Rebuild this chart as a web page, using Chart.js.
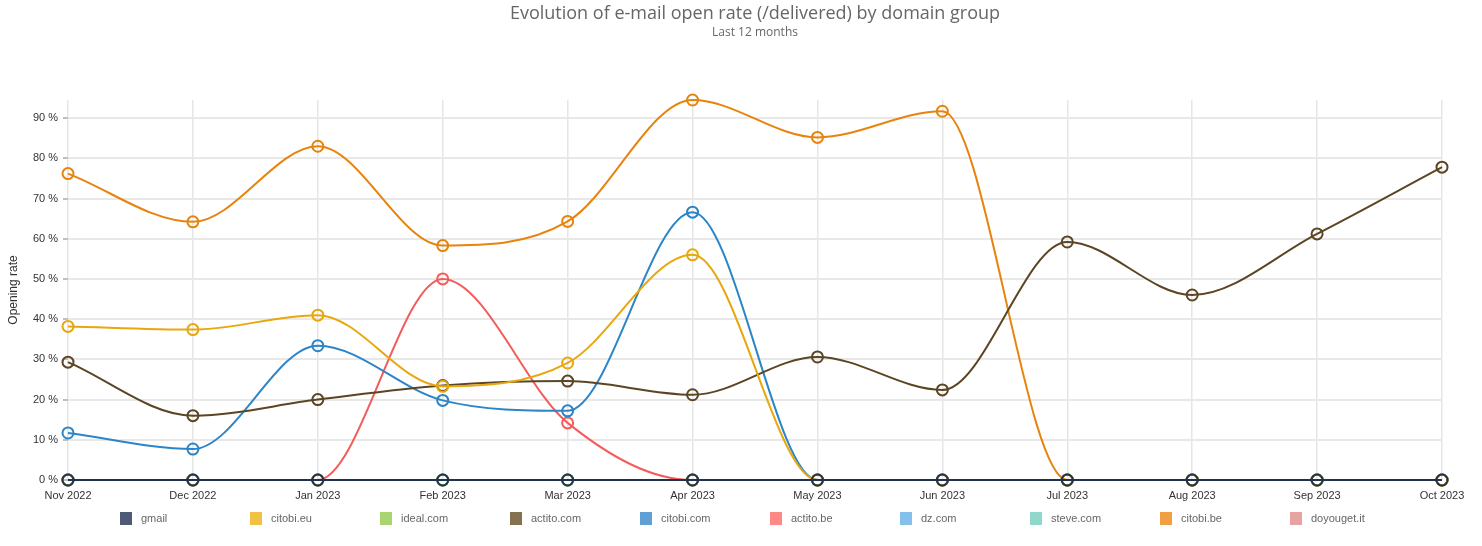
<!DOCTYPE html>
<html>
<head>
<meta charset="utf-8">
<script src="https://cdn.jsdelivr.net/npm/chart.js@4/dist/chart.umd.min.js"></script>
<style>
  html, body { margin: 0; padding: 0; background: #fff; }
  #wrap { width: 1482px; height: 546px; }
</style>
</head>
<body>
<div id="wrap"><canvas id="openChart"></canvas></div>
<script>
// months on the x axis
const months = ["Nov 2022", "Dec 2022", "Jan 2023", "Feb 2023", "Mar 2023", "Apr 2023",
                "May 2023", "Jun 2023", "Jul 2023", "Aug 2023", "Sep 2023", "Oct 2023"]

// open rate in %, one array per domain group
const gmail      = [0, 0, 0, 0, 0, 0, 0, 0, 0, 0, 0, 0]
const citobiEu   = [38.2, 37.4, 41.0, 23.3, 29.1, 56.0, 0, 0, 0, 0, 0, 0]
const idealCom   = [0, 0, 0, 0, 0, 0, 0, 0, 0, 0, 0, 0]
const actitoCom  = [29.3, 16.0, 20.0, 23.5, 24.6, 21.2, 30.6, 22.4, 59.2, 46.0, 61.2, 77.8]
const citobiCom  = [11.7, 7.7, 33.4, 19.8, 17.2, 66.6, 0, 0, 0, 0, 0, 0]
const actitoBe   = [0, 0, 0, 50.0, 14.2, 0, 0, 0, 0, 0, 0, 0]
const dzCom      = [0, 0, 0, 0, 0, 0, 0, 0, 0, 0, 0, 0]
const steveCom   = [0, 0, 0, 0, 0, 0, 0, 0, 0, 0, 0, 0]
const citobiBe   = [76.2, 64.2, 83.0, 58.3, 64.3, 94.5, 85.2, 91.7, 0, 0, 0, 0]
const doyougetIt = [0, 0, 0, 0, 0, 0, 0, 0, 0, 0, 0, 0]

const yTicks = [0, 10, 20, 30, 40, 50, 60, 70, 80, 90]

const series = [
       ["gmail", gmail, "#22324d", "#4d5b78"],
       ["citobi.eu", citobiEu, "#e8a70c", "#f2c144"],
       ["ideal.com", idealCom, "#8cc43c", "#a9d46f"],
       ["actito.com", actitoCom, "#5b4523", "#85704f"],
       ["citobi.com", citobiCom, "#2b85c7", "#5ea0d5"],
       ["actito.be", actitoBe, "#f45b5b", "#ff8784"],
       ["dz.com", dzCom, "#63b0e6", "#83c1ec"],
       ["steve.com", steveCom, "#6ccbb8", "#8fd8cb"],
       ["citobi.be", citobiBe, "#e8830c", "#f0a043"],
       ["doyouget.it", doyougetIt, "#e08386", "#e8a2a4"]
]

// legend drawn with fixed item width, like the original
const fixedLegend = {
       id: "fixedLegend",
       afterDraw(chart) {
              const ctx = chart.ctx
              const a = chart.chartArea
              const mid = (a.left + a.right) / 2
              ctx.save()
              ctx.font = '11px "Liberation Sans", Arial, sans-serif'
              ctx.textBaseline = "middle"
              chart.data.datasets.forEach((ds, i) => {
                     const x = mid - 650 + 15 + i * 130
                     ctx.fillStyle = ds.legendColor
                     ctx.fillRect(x, 512, 12, 13)
                     ctx.fillStyle = "#666"
                     ctx.fillText(ds.label, x + 21, 519)
              })
              ctx.restore()
       }
}

const axisFont = { family: '"Liberation Sans", Arial, sans-serif', size: 11 }

new Chart(document.getElementById("openChart"), {

       type: "line",

       data: {
              labels: months,
              datasets: series.map(([name, values, color, legendColor]) => ({
                     label: name,
                     data: values,
                     borderColor: color,
                     legendColor: legendColor,
                     borderWidth: 2,
                     pointRadius: 5.5,
                     pointHoverRadius: 5.5,
                     pointBorderWidth: 2,
                     pointBackgroundColor: "rgba(0,0,0,0)",
                     pointBorderColor: color,
                     cubicInterpolationMode: "monotone",
                     clip: false
              }))
       },

       options: {
              responsive: true,
              maintainAspectRatio: false,
              animation: false,
              layout: { padding: { left: 0, right: 40, top: 0, bottom: 36 } },
              plugins: {
                     legend: { display: false },
                     tooltip: { enabled: false },
                     title: {
                            display: true,
                            fullSize: false,
                            text: "Evolution of e-mail open rate (/delivered) by domain group",
                            color: "#666",
                            font: { family: '"Open Sans", sans-serif', size: 18, weight: "normal" },
                            padding: { top: 3, bottom: 0 }
                     },
                     subtitle: {
                            display: true,
                            fullSize: false,
                            text: "Last 12 months",
                            color: "#666",
                            font: { family: '"Open Sans", sans-serif', size: 12 },
                            padding: { top: 1, bottom: 60 }
                     }
              },
              scales: {
                     x: {
                            offset: false,
                            grid: { color: "#e6e6e6", lineWidth: 1.5, drawTicks: false },
                            border: { display: false },
                            ticks: { color: "#333", font: axisFont, padding: 9, maxRotation: 0, autoSkip: false },
                            afterFit: s => { s.height = 30 }
                     },
                     y: {
                            min: 0,
                            max: 94.5,
                            afterBuildTicks: s => { s.ticks = yTicks.map(v => ({ value: v })) },
                            grid: {
                                   color: "#e8e8e8",
                                   lineWidth: 2,
                                   tickColor: "#c0c0c0",
                                   tickLength: 5,
                                   tickWidth: 2
                            },
                            border: { display: false },
                            ticks: { color: "#333", font: axisFont, padding: 5, callback: v => v + " %" },
                            title: {
                                   display: true,
                                   text: "Opening rate",
                                   color: "#333",
                                   font: { family: '"Liberation Sans", Arial, sans-serif', size: 12 },
                                   padding: { top: 6, bottom: 0 }
                            },
                            afterFit: s => { s.width = 68 }
                     }
              }
       },

       plugins: [fixedLegend]

})
</script>
</body>
</html>
